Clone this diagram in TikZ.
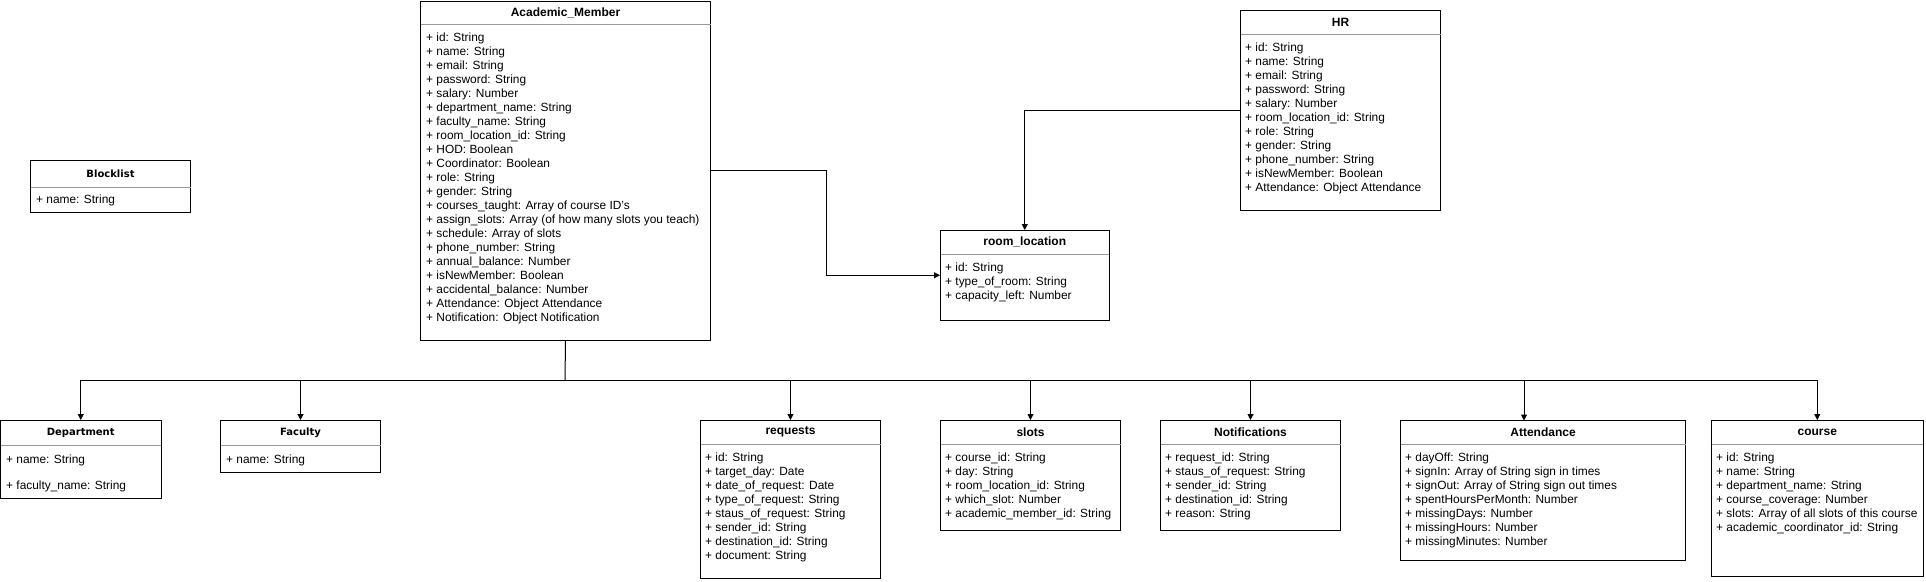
\documentclass[tikz,border=0pt]{standalone}
\usepackage{fontspec}
\setmainfont{Liberation Sans}
\newfontfamily\dejavu{DejaVu Sans}
\usetikzlibrary{fit,arrows.meta}
\tikzset{
  cls/.style={draw=black, line width=1pt, inner sep=0pt},
  hsep/.style={draw=black!40, line width=0.8pt},
  hdr/.style={font=\fontsize{12}{14}\selectfont\bfseries, inner sep=0pt},
  hdrv/.style={font=\dejavu\fontsize{10}{12}\selectfont\bfseries, inner sep=0pt},
  attr/.style={font=\fontsize{11.9}{14}\selectfont, align=left, anchor=north west, inner sep=0pt},
  conn/.style={draw=black, line width=1pt, -{Triangle[length=6pt,width=6pt]}},
  bus/.style={draw=black, line width=1pt},
}
% name, x1, y1, x2, y2, separator y, header style, title
\newcommand\umlbox[8]{%
  \node[cls, fit={(#2,#3)(#4,#5)}] (#1) {};
  \draw[hsep] (#2,#6) -- (#4,#6);
  \node[#7] (#1-t) at ({(#2+#4)/2},{(#3+#6)/2}) {#8};
}
\begin{document}
\begin{tikzpicture}[x=1pt,y=-1pt]
\path[use as bounding box, fill=white] (0,0) rectangle (1926,581);

% Academic_Member
\umlbox{am}{420.5}{1}{710.5}{340}{24}{hdr}{Academic\_Member}
\node[attr] (am-a) at (426,32.5) {+ id: String\\+ name: String\\+ email: String\\+ password: String\\+ salary: Number\\+ department\_name: String\\+ faculty\_name: String\\+ room\_location\_id: String\\+ HOD: Boolean\\+ Coordinator: Boolean\\+ role: String\\+ gender: String\\+ courses\_taught: Array of course ID's\\+ assign\_slots: Array (of how many slots you teach)\\+ schedule: Array of slots\\+ phone\_number: String\\+ annual\_balance: Number\\+ isNewMember: Boolean\\+ accidental\_balance: Number\\+ Attendance: Object Attendance\\+ Notification: Object Notification};

% Blocklist
\umlbox{bl}{30.5}{160.5}{190.5}{212}{187}{hdrv}{Blocklist}
\node[attr] (bl-a) at (36,195) {+ name: String};

% HR
\umlbox{hr}{1240.5}{10.5}{1440.5}{210}{34}{hdr}{HR}
\node[attr] (hr-a) at (1245,42.5) {+ id: String\\+ name: String\\+ email: String\\+ password: String\\+ salary: Number\\+ room\_location\_id: String\\+ role: String\\+ gender: String\\+ phone\_number: String\\+ isNewMember: Boolean\\+ Attendance: Object Attendance};

% room_location
\umlbox{room}{940.5}{230.5}{1109}{320}{254}{hdr}{room\_location}
\node[attr] (room-a) at (945,262.5) {+ id: String\\+ type\_of\_room: String\\+ capacity\_left: Number};

% Department
\umlbox{dept}{0.5}{420.5}{161}{498}{445}{hdrv}{Department}
\node[attr] (dept-a) at (6,455) {+ name: String\\[12pt]+ faculty\_name: String};

% Faculty
\umlbox{fac}{220.5}{420.5}{380.5}{472}{445}{hdrv}{Faculty}
\node[attr] (fac-a) at (226,455) {+ name: String};

% requests
\umlbox{req}{700.5}{420.5}{880.5}{578}{444}{hdr}{requests}
\node[attr] (req-a) at (705,452.5) {+ id: String\\+ target\_day: Date\\+ date\_of\_request: Date\\+ type\_of\_request: String\\+ staus\_of\_request: String\\+ sender\_id: String\\+ destination\_id: String\\+ document: String};

% slots
\umlbox{slots}{940.5}{420.5}{1120.5}{530}{444}{hdr}{slots}
\node[attr] (slots-a) at (945,452.5) {+ course\_id: String\\+ day: String\\+ room\_location\_id: String\\+ which\_slot: Number\\+ academic\_member\_id: String};

% Notifications
\umlbox{notif}{1160.5}{420.5}{1340.5}{530}{444}{hdr}{Notifications}
\node[attr] (notif-a) at (1165,452.5) {+ request\_id: String\\+ staus\_of\_request: String\\+ sender\_id: String\\+ destination\_id: String\\+ reason: String};

% Attendance
\umlbox{att}{1400.5}{420.5}{1685.5}{560}{444}{hdr}{Attendance}
\node[attr] (att-a) at (1405,452.5) {+ dayOff: String\\+ signIn: Array of String sign in times\\+ signOut: Array of String sign out times\\+ spentHoursPerMonth: Number\\+ missingDays: Number\\+ missingHours: Number\\+ missingMinutes: Number};

% course
\umlbox{course}{1711.5}{420.5}{1923}{576}{444}{hdr}{course}
\node[attr] (course-a) at (1716,452.5) {+ id: String\\+ name: String\\+ department\_name: String\\+ course\_coverage: Number\\+ slots: Array of all slots of this course\\+ academic\_coordinator\_id: String};

% connectors to room_location
\draw[conn] (am.east) -- ++(115,0) |- (room.west);
\draw[conn] (hr.west) -| (room.north);

% bus from Academic_Member
\coordinate (bus) at (565,380);
\coordinate (attin) at (1524,420.5);
\draw[bus] (am.south) -- (bus);
\draw[bus] (dept.north |- bus) -- (course.north |- bus);
\draw[conn] (dept.north |- bus) -- (dept.north);
\draw[conn] (fac.north |- bus) -- (fac.north);
\draw[conn] (req.north |- bus) -- (req.north);
\draw[conn] (slots.north |- bus) -- (slots.north);
\draw[conn] (notif.north |- bus) -- (notif.north);
\draw[conn] (attin |- bus) -- (attin);
\draw[conn] (course.north |- bus) -- (course.north);
\end{tikzpicture}
\end{document}
